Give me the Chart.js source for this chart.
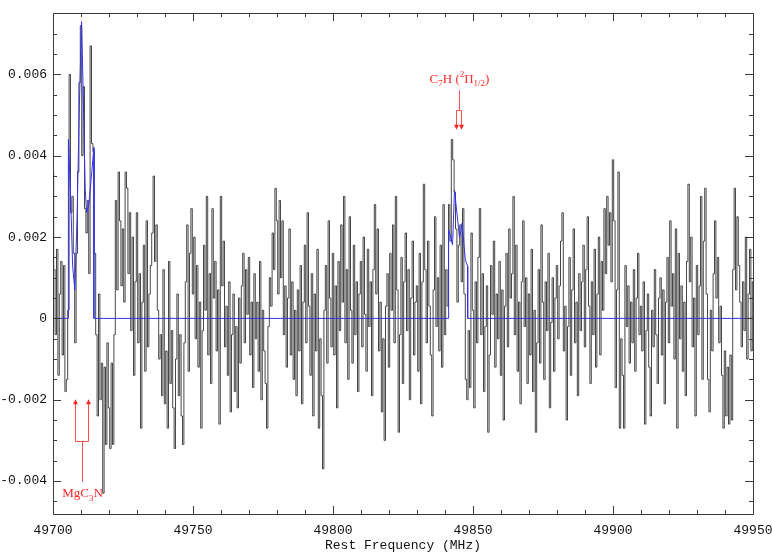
<!DOCTYPE html>
<html>
<head>
<meta charset="utf-8">
<script src="https://cdn.jsdelivr.net/npm/chart.js@4.4.1/dist/chart.umd.min.js"></script>
<style>
html, body { margin: 0; padding: 0; background: #fff; }
canvas { display: block; }
</style>
</head>
<body>
<canvas id="spectrum" width="772" height="553"></canvas>
<script>
// channel grid of the spectrum (MHz)
const freqStart = 49700;
const chanWidth = 0.5;

// antenna temperature per channel, in mK (0.001 K), one row = 10 MHz
const spectrum = [
    3.6, 1.2, -0.4, 1.7, -1.4, 0.6, 1.4, -0.9, 1.3, -1.8, -1.5, 0.2, 6.0, 2.6, 3.0, 1.6, -0.6, 1.6, 3.6, 5.8,
    7.2, 4.0, 5.7, 2.7, 2.1, 2.9, 1.1, 6.7, 4.3, 4.1, 1.6, -0.4, -2.4, 0.6, -2.0, -1.1, -4.3, -1.2, -3.1, -0.6,
    -2.2, -3.2, -1.1, -3.1, -0.4, 2.9, 0.7, 3.6, 2.4, 0.8, 2.2, 0.4, 3.6, 3.2, 1.1, 2.6, -0.3, 2.0, -1.4, 0.9,
    2.6, -0.6, 1.1, -2.7, 0.4, 1.8, -1.3, 2.4, -0.7, 0.6, 1.3, 2.1, 3.5, 1.4, 2.3, 0.2, -1.0, -0.4, -1.9, 1.2,
    -2.1, -0.8, -2.7, 1.4, -1.6, -0.3, -2.2, -3.2, -1.0, 0.6, -1.9, -0.4, -2.4, -3.1, -0.6, 0.9, 2.3, -1.3, 1.6, 2.7,
    0.6, 2.0, -0.5, 1.3, -1.2, 0.4, -2.7, -0.3, 1.8, 0.2, 3.0, -0.9, 1.1, -1.6, 2.7, 0.5, 1.4, -0.8, 0.7, -2.6,
    3.0, 0.8, 1.9, -0.7, 0.3, -1.4, 0.9, -2.3, -0.4, 0.6, -1.8, -0.2, -2.2, 0.5, -1.1, 0.8, 1.6, -0.6, 1.2, 0.1,
    1.5, -0.9, 0.4, -1.7, 1.1, -0.5, 0.4, -1.3, 1.4, -2.0, 0.2, -0.8, -1.6, -2.7, -0.2, 1.0, 0.3, 2.1, 1.2, 3.2,
    2.4, 0.6, 2.9, 1.0, 2.4, -0.4, 0.8, -1.2, 0.5, 2.2, -0.9, 0.9, -1.5, 0.2, -1.9, 0.7, -0.8, 1.3, -2.1, 0.4,
    1.8, -0.6, 2.6, 0.3, -1.4, 1.1, -2.4, 0.6, -0.8, 1.7, -2.7, -0.5, -1.9, -3.7, 0.2, 1.3, -1.1, 2.4, 0.5, -0.7,
    1.6, -0.9, 0.8, -2.2, 1.4, -0.3, 2.3, 0.4, 3.0, -0.6, 1.2, -1.5, 2.5, 0.2, -1.1, 1.8, -0.4, 0.9, -1.8, 0.6,
    1.4, -0.7, 2.0, 0.1, -1.3, 1.7, -0.2, 0.9, -1.9, 1.2, 2.8, 0.6, 2.2, -0.8, 0.4, -2.3, -0.5, -3.0, 0.3, 1.1,
    -1.2, 1.6, 0.2, 2.3, -0.6, 3.0, 0.7, -2.8, -0.4, 1.5, -1.6, 0.9, 2.1, -0.3, 1.2, -2.0, 0.5, 1.9, -0.9, 0.4,
    0.8, -1.3, 1.6, -2.1, 0.9, 3.3, 1.2, -0.6, 1.9, 0.3, -0.9, -2.4, 0.7, 2.5, -0.2, 1.0, -0.8, 1.8, -1.2, 2.8,
    -0.4, 1.2, 0.3, 2.8, 1.9, 4.4, 3.9, 3.1, 2.2, 0.4, 1.8, 2.3, 0.9, 2.7, 0.6, -1.5, -2.0, -0.3, -1.7, 2.1,
    0.2, -2.2, 0.9, -0.6, 1.5, 2.7, -0.4, 1.1, -1.8, -0.2, 0.8, -2.8, -0.9, 1.3, 0.1, 1.9, -1.2, 0.6, -0.5, 1.4,
    -1.4, 0.7, -2.5, 0.3, 1.6, -0.7, 2.2, 0.5, 1.1, 3.0, -0.4, 1.8, -1.3, 0.4, -2.1, 0.9, 2.4, -0.2, 1.0, -1.6,
    0.6, -0.9, 1.7, -1.8, 0.2, -2.8, -0.6, 1.2, -1.1, 2.3, 0.4, -1.5, 0.9, -0.3, 1.6, -2.2, -0.1, 1.0, -1.3, 0.5,
    1.3, -0.5, 0.8, 1.9, 2.6, -0.8, 0.3, -2.5, -0.2, 1.5, -1.4, 0.7, 2.2, -0.6, 0.4, -1.9, 1.1, -0.3, 0.9, 1.8,
    -0.7, 1.2, 2.5, 0.3, -1.6, 0.9, -0.4, 1.7, -1.2, 0.6, 2.0, -0.9, 1.4, 0.2, 2.7, 1.1, 3.0, 1.8, 2.6, 0.9,
    3.9, 2.4, -1.7, 0.7, 3.6, -2.7, -0.5, -1.4, -2.7, 1.3, -0.2, 0.8, -1.1, 0.4, -0.6, 1.2, -1.3, 0.5, 1.6, -0.4,
    0.3, -0.8, 0.9, -2.6, -0.3, 0.6, -1.2, -2.4, 0.2, -0.7, 1.2, -0.4, -1.6, 0.5, 1.0, -0.9, 0.7, -2.1, 0.4, 1.5,
    -0.6, 2.4, 0.3, 1.1, -1.0, 2.2, -2.7, 1.6, -0.5, 0.8, -1.3, 0.4, -1.9, 1.4, 3.3, 0.9, 2.0, -0.7, 0.5, -2.4,
    1.3, -0.4, 0.8, 3.0, -1.5, 1.9, 3.2, 0.6, -1.5, -2.3, 0.2, -0.8, 1.1, 2.4, 0.5, 1.5, -0.6, 0.3, -1.4, -2.7,
    -0.8, -2.4, -1.2, -2.6, -0.9, -2.5, 1.2, 3.2, 0.7, 2.5, 1.3, 0.4, -0.7, 0.9, -0.3, 2.0, -1.0, 0.6, 1.7, -0.8,
    0.9
];

// fitted line profiles (blue)
const fitFreq = [
    49700, 49705.5, 49705.5, 49706.3, 49707.0, 49707.8, 49708.6, 49709.4, 49710.2, 49710.9,
    49711.5, 49712.0, 49712.8, 49713.6, 49714.6, 49714.6,
    49841.3, 49841.3, 49842.7, 49843.4, 49845.2, 49846.1, 49847.25, 49848.1, 49848.1, 49950
];
const fitValue = [
    0, 0, 4.4, 3.0, 1.3, 0.7, 2.5, 5.2, 7.3, 5.2,
    3.2, 2.6, 2.8, 3.4, 4.2, 0,
    0, 2.18, 1.81, 3.15, 1.98, 2.34, 1.44, 1.28, 0, 0
];

// line identifications
const mgc3nFreqs = [49707.7, 49712.4];
const c7hFreqs = [49843.8, 49845.6];

// axes
const xMin = 49700, xMax = 49950;
const yMin = -4.81, yMax = 7.51;
const xTickValues = [49700, 49750, 49800, 49850, 49900, 49950];
const yTickValues = [-4, -2, 0, 2, 4, 6];
const yTickLabels = ['-0.004', '-0.002', '0', '0.002', '0.004', '0.006'];


function drawRichText(ctx, parts, cx, baseY, size) {
    const base = size + 'px "Liberation Serif"';
    const small = Math.round(size * 0.72) + 'px "Liberation Serif"';
    let w = 0;
    parts.forEach(p => {
        ctx.font = p.s ? small : base;
        w += ctx.measureText(p.t).width;
    });
    let x = cx - w / 2;
    ctx.textBaseline = 'alphabetic';
    ctx.textAlign = 'left';
    parts.forEach(p => {
        ctx.font = p.s ? small : base;
        let dy = 0;
        if (p.s === 'sub') dy = size * 0.3;
        if (p.s === 'sup') dy = -size * 0.45;
        ctx.fillText(p.t, x, baseY + dy);
        x += ctx.measureText(p.t).width;
    });
}


function arrowHead(ctx, px, py, dir) {
    // dir = -1 points up, +1 points down
    ctx.beginPath();
    ctx.moveTo(px, py);
    ctx.lineTo(px - 2.5, py - dir * 5);
    ctx.lineTo(px + 2.5, py - dir * 5);
    ctx.closePath();
    ctx.fill();
}


const frameTicks = {
    id: 'frameTicks',
    afterDraw(chart) {
        const { ctx, chartArea: a, scales: { x, y } } = chart;
        ctx.save();
        ctx.strokeStyle = '#3a3a3a';
        ctx.lineWidth = 1;
        ctx.strokeRect(Math.round(a.left) + 0.5, Math.round(a.top) + 0.5,
            Math.round(a.right - a.left), Math.round(a.bottom - a.top));
        ctx.beginPath();
        for (let f = xMin; f <= xMax; f += 10) {
            const px = Math.round(x.getPixelForValue(f)) + 0.5;
            const len = (f - xMin) % 50 === 0 ? 8 : 4;
            ctx.moveTo(px, a.bottom);
            ctx.lineTo(px, a.bottom - len);
            ctx.moveTo(px, a.top);
            ctx.lineTo(px, a.top + len);
        }
        for (let v = -4.5; v <= yMax; v += 0.5) {
            const py = Math.round(y.getPixelForValue(v)) + 0.5;
            const len = Math.abs(v % 2) < 1e-6 ? 8 : 4;
            ctx.moveTo(a.left, py);
            ctx.lineTo(a.left + len, py);
            ctx.moveTo(a.right, py);
            ctx.lineTo(a.right - len, py);
        }
        ctx.stroke();
        ctx.restore();
    }
};


const lineLabels = {
    id: 'lineLabels',
    afterDatasetsDraw(chart) {
        const { ctx, scales: { x, y } } = chart;
        ctx.save();
        ctx.strokeStyle = 'rgb(255,80,80)';
        ctx.fillStyle = 'rgb(255,40,40)';
        ctx.lineWidth = 1;

        // MgC3N: arrows pointing up
        const mx = mgc3nFreqs.map(f => Math.round(x.getPixelForValue(f)) + 0.5);
        const mHead = y.getPixelForValue(-1.99);
        const mBar = Math.round(y.getPixelForValue(-3.02)) + 0.5;
        const mStem = y.getPixelForValue(-4.02);
        const mMid = Math.round((mx[0] + mx[1]) / 2) + 0.5;
        ctx.beginPath();
        mx.forEach(px => { ctx.moveTo(px, mBar); ctx.lineTo(px, mHead + 4); });
        ctx.moveTo(mx[0], mBar); ctx.lineTo(mx[1], mBar);
        ctx.moveTo(mMid, mBar); ctx.lineTo(mMid, mStem);
        ctx.stroke();
        mx.forEach(px => arrowHead(ctx, px, mHead, -1));
        drawRichText(ctx, [{ t: 'MgC' }, { t: '3', s: 'sub' }, { t: 'N' }],
            mMid, y.getPixelForValue(-4.40), 13);

        // C7H: arrows pointing down
        const cx = c7hFreqs.map(f => Math.round(x.getPixelForValue(f)) + 0.5);
        const cHead = y.getPixelForValue(4.64);
        const cBar = Math.round(y.getPixelForValue(5.12)) + 0.5;
        const cStem = y.getPixelForValue(5.61);
        const cMid = Math.round((cx[0] + cx[1]) / 2) + 0.5;
        ctx.beginPath();
        cx.forEach(px => { ctx.moveTo(px, cBar); ctx.lineTo(px, cHead - 4); });
        ctx.moveTo(cx[0], cBar); ctx.lineTo(cx[1], cBar);
        ctx.moveTo(cMid, cBar); ctx.lineTo(cMid, cStem);
        ctx.stroke();
        cx.forEach(px => arrowHead(ctx, px, cHead, 1));
        drawRichText(ctx, [
            { t: 'C' }, { t: '7', s: 'sub' }, { t: 'H (' }, { t: '2', s: 'sup' },
            { t: '\u03A0' }, { t: '1/2', s: 'sub' }, { t: ')' }
        ], cMid, y.getPixelForValue(5.80), 13);
        ctx.restore();
    }
};


function initChart() {
    const ctx = document.getElementById('spectrum').getContext('2d');
    const specPoints = spectrum.map((v, i) => ({ x: freqStart + i * chanWidth, y: v }));
    const fitPoints = fitFreq.map((f, i) => ({ x: f, y: fitValue[i] }));
    const tickFont = { family: '"Liberation Mono", monospace', size: 13 };

    return new Chart(ctx, {
        type: 'line',
        data: {
            datasets: [{
                label: 'fit',
                data: fitPoints,
                borderColor: 'rgb(50,50,240)',
                borderWidth: 1,
                pointRadius: 0,
                order: 0
            }, {
                label: 'spectrum',
                data: specPoints,
                borderColor: 'rgba(0,0,0,0.72)',
                borderWidth: 1,
                pointRadius: 0,
                stepped: 'middle',
                order: 1
            }]
        },
        options: {
            responsive: false,
            animation: false,
            layout: { padding: { top: 13, right: 19, left: 0, bottom: 0 } },
            scales: {
                x: {
                    type: 'linear',
                    min: xMin,
                    max: xMax,
                    grid: { display: false, drawTicks: false },
                    border: { display: false },
                    afterBuildTicks: s => { s.ticks = xTickValues.map(v => ({ value: v })); },
                    afterFit: s => {
                        s.height = 39;
                        s.paddingLeft = 0;
                        s.paddingRight = 0;
                    },
                    ticks: {
                        maxRotation: 0,
                        autoSkip: false,
                        padding: 9,
                        color: '#111',
                        font: tickFont,
                        callback: v => String(v)
                    },
                    title: {
                        display: true,
                        text: 'Rest Frequency (MHz)',
                        color: '#111',
                        font: tickFont,
                        padding: { top: 0, bottom: 0 }
                    }
                },
                y: {
                    type: 'linear',
                    min: yMin,
                    max: yMax,
                    grid: { display: false, drawTicks: false },
                    border: { display: false },
                    afterBuildTicks: s => { s.ticks = yTickValues.map(v => ({ value: v })); },
                    afterFit: s => {
                        s.width = 53;
                        s.paddingTop = 0;
                        s.paddingBottom = 0;
                    },
                    ticks: {
                        padding: 6,
                        color: '#111',
                        font: tickFont,
                        callback: (v, i) => yTickLabels[i]
                    }
                }
            },
            plugins: {
                legend: { display: false },
                tooltip: { enabled: false }
            }
        },
        plugins: [frameTicks, lineLabels]
    });
}


document.addEventListener('DOMContentLoaded', function() {
    initChart();
});
</script>
</body>
</html>
